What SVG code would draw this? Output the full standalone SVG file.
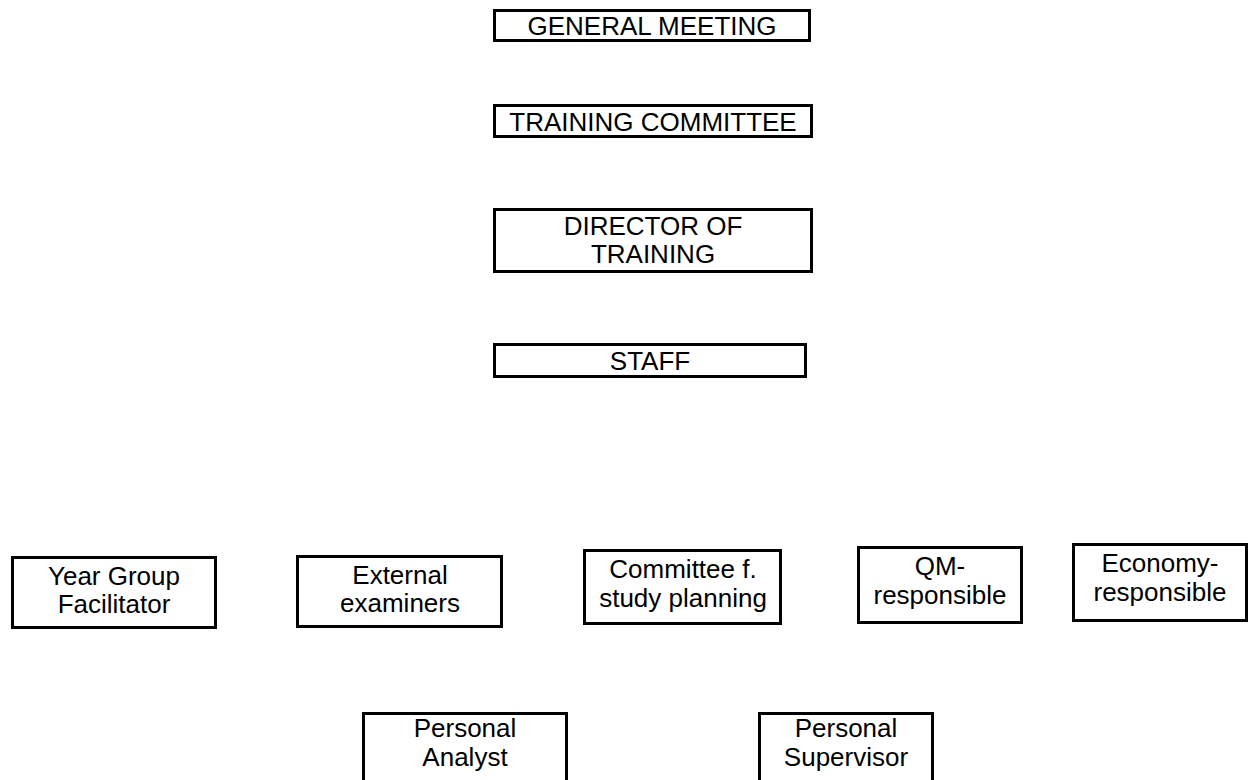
<svg xmlns="http://www.w3.org/2000/svg" width="1250" height="780" viewBox="0 0 1250 780">
<style>
.box{fill:#fff;stroke:#000;stroke-width:3}
.t{font-family:"Liberation Sans",Arial,sans-serif;font-size:26px;fill:#000;text-anchor:middle}
</style>
<rect width="1250" height="780" fill="#fff"/>
<g id="connectors"></g>
<g id="general-meeting"><rect class="box" x="494.5" y="10.5" width="315" height="30"/><text class="t" x="652" y="35">GENERAL MEETING</text></g>
<g id="training-committee"><rect class="box" x="494.5" y="105.5" width="317" height="31"/><text class="t" x="653" y="131">TRAINING COMMITTEE</text></g>
<g id="director"><rect class="box" x="494.5" y="209.5" width="317" height="62"/><text class="t" x="653" y="235">DIRECTOR OF</text><text class="t" x="653" y="263">TRAINING</text></g>
<g id="staff"><rect class="box" x="494.5" y="344.5" width="311" height="32"/><text class="t" x="650" y="370">STAFF</text></g>
<g id="year-group"><rect class="box" x="12.5" y="557.5" width="203" height="70"/><text class="t" x="114" y="585">Year Group</text><text class="t" x="114" y="613">Facilitator</text></g>
<g id="external"><rect class="box" x="297.5" y="556.5" width="204" height="70"/><text class="t" x="400" y="584">External</text><text class="t" x="400" y="612">examiners</text></g>
<g id="committee"><rect class="box" x="584.5" y="550.5" width="196" height="73"/><text class="t" x="683" y="578">Committee f.</text><text class="t" x="683" y="607">study planning</text></g>
<g id="qm"><rect class="box" x="858.5" y="547.5" width="163" height="75"/><text class="t" x="940" y="575">QM-</text><text class="t" x="940" y="604">responsible</text></g>
<g id="economy"><rect class="box" x="1073.5" y="544.5" width="173" height="76"/><text class="t" x="1160" y="572">Economy-</text><text class="t" x="1160" y="601">responsible</text></g>
<g id="personal-analyst"><rect class="box" x="363.5" y="713.5" width="203" height="80"/><text class="t" x="465" y="737">Personal</text><text class="t" x="465" y="766">Analyst</text></g>
<g id="personal-supervisor"><rect class="box" x="759.5" y="713.5" width="173" height="80"/><text class="t" x="846" y="737">Personal</text><text class="t" x="846" y="766">Supervisor</text></g>
</svg>
